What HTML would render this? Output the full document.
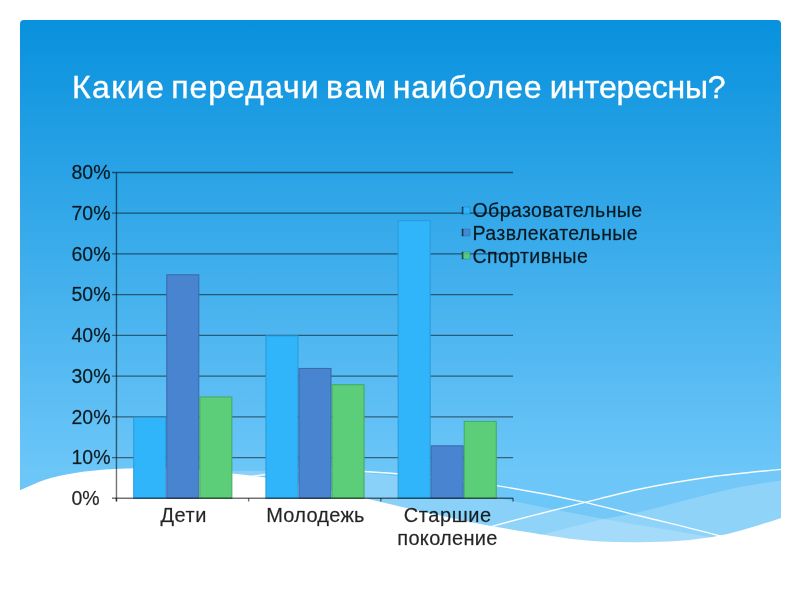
<!DOCTYPE html>
<html><head><meta charset="utf-8"><style>
html,body{margin:0;padding:0;background:#fff;width:800px;height:600px;overflow:hidden}
svg{display:block;will-change:transform}
text{font-family:"Liberation Sans",sans-serif}
</style></head><body>
<svg width="800" height="600" viewBox="0 0 800 600">
<defs>
<linearGradient id="bg" gradientUnits="userSpaceOnUse" x1="0" y1="20" x2="0" y2="470">
<stop offset="0" stop-color="#0891dd"/>
<stop offset="1" stop-color="#6cc6f8"/>
</linearGradient>
<clipPath id="slide"><rect x="20" y="20" width="761" height="560" rx="4"/></clipPath>
</defs>
<g clip-path="url(#slide)">
<rect x="20" y="20" width="761" height="560" fill="url(#bg)"/>
<path d="M420.0,548.0 C444.0,540.8 468.0,533.2 492.0,526.4 C523.0,517.7 554.0,510.1 585.0,502.4 C603.3,497.8 621.7,492.9 640.0,489.0 C663.3,484.1 686.7,480.3 710.0,477.0 C736.7,473.2 763.3,471.3 790.0,468.5 L790,600 L420,600 Z" fill="#fff" fill-opacity="0.05"/>
<g fill="#fff" fill-opacity="0.2">
<path d="M230.0,471.0 C253.3,471.0 276.7,470.6 300.0,471.0 C321.3,471.3 342.7,471.5 364.0,473.0 C375.0,473.8 386.0,474.7 397.0,476.0 C430.7,480.1 464.3,491.0 498.0,498.0 C533.3,505.4 568.7,512.5 604.0,519.0 C639.3,525.5 674.7,530.6 710.0,537.0 C736.7,541.8 763.3,547.0 790.0,552.0 L790,600 L230,600 Z"/>
<path d="M440.0,556.0 C473.3,549.0 506.7,542.8 540.0,535.0 C561.3,530.0 582.7,523.5 604.0,519.0 C615.3,516.6 626.7,515.0 638.0,512.5 C655.3,508.7 672.7,503.3 690.0,499.0 C706.7,494.8 723.3,490.3 740.0,487.0 C756.7,483.7 773.3,481.7 790.0,479.0 L790,600 L440,600 Z"/>
</g>
<g fill="none" stroke="#fff" stroke-width="1.4" stroke-opacity="0.95">
<path d="M240.0,478.0 C260.0,475.5 280.0,471.6 300.0,470.5 C321.3,469.3 342.7,470.4 364.0,471.5 C375.0,472.1 386.0,472.9 397.0,473.8 C430.0,476.5 463.0,480.5 496.0,485.6 C525.7,490.2 555.3,495.7 585.0,502.4 C603.3,506.5 621.7,511.4 640.0,516.0 C666.7,522.6 693.3,528.4 720.0,536.0 C733.3,539.8 746.7,544.0 760.0,548.0"/>
<path d="M420.0,548.0 C444.0,540.8 468.0,533.2 492.0,526.4 C523.0,517.7 554.0,510.1 585.0,502.4 C603.3,497.8 621.7,492.9 640.0,489.0 C663.3,484.1 686.7,480.3 710.0,477.0 C736.7,473.2 763.3,471.3 790.0,468.5"/>
</g>
</g>
<path d="M0.0,498.0 C6.7,495.4 13.3,492.9 20.0,490.2 C28.3,486.8 36.7,482.5 45.0,479.7 C55.0,476.4 65.0,474.7 75.0,473.0 C85.0,471.3 95.0,470.3 105.0,469.5 C115.0,468.7 125.0,468.4 135.0,468.2 C148.3,467.9 161.7,468.0 175.0,468.5 C194.0,469.3 213.0,471.3 232.0,473.4 C243.0,474.6 254.0,475.9 265.0,477.5 C298.0,482.3 331.0,490.5 364.0,498.0 C376.0,500.7 388.0,503.8 400.0,506.5 C440.0,515.6 480.0,524.6 520.0,531.0 C546.7,535.3 573.3,540.0 600.0,541.5 C616.7,542.4 633.3,542.4 650.0,542.0 C663.3,541.7 676.7,541.4 690.0,540.0 C700.0,538.9 710.0,537.6 720.0,535.6 C730.0,533.6 740.0,530.7 750.0,527.8 C760.3,524.8 770.7,521.3 781.0,517.9 C787.3,515.8 793.7,513.6 800.0,511.5 L800,600 L0,600 Z" fill="#fff"/>
<g fill="#fff" stroke="#fff" stroke-width="0.35" font-size="32">
<text x="72" y="97.6" letter-spacing="1.4">Какие</text>
<text x="171.2" y="97.6" letter-spacing="1.0">передачи</text>
<text x="326" y="97.6" letter-spacing="1.75">вам</text>
<text x="392.7" y="97.6" letter-spacing="0.82">наиболее</text>
<text x="549.7" y="97.6" letter-spacing="-0.2">интересны?</text>
</g>
<g stroke="#000" stroke-opacity="0.5" stroke-width="1.3"><line x1="112" y1="172.50" x2="513.05" y2="172.50"/><line x1="112" y1="213.22" x2="513.05" y2="213.22"/><line x1="112" y1="253.94" x2="513.05" y2="253.94"/><line x1="112" y1="294.66" x2="513.05" y2="294.66"/><line x1="112" y1="335.38" x2="513.05" y2="335.38"/><line x1="112" y1="376.09" x2="513.05" y2="376.09"/><line x1="112" y1="416.81" x2="513.05" y2="416.81"/><line x1="112" y1="457.53" x2="513.05" y2="457.53"/></g>
<rect x="133.72" y="417.31" width="32.05" height="80.94" fill="#30b4fa" stroke="#2a9ad8" stroke-width="1"/><rect x="166.77" y="274.80" width="32.05" height="223.45" fill="#4884d0" stroke="#3a6aa8" stroke-width="1"/><rect x="199.82" y="396.95" width="32.05" height="101.30" fill="#5ccd78" stroke="#47a862" stroke-width="1"/><rect x="265.92" y="335.88" width="32.05" height="162.38" fill="#30b4fa" stroke="#2a9ad8" stroke-width="1"/><rect x="298.97" y="368.45" width="32.05" height="129.80" fill="#4884d0" stroke="#3a6aa8" stroke-width="1"/><rect x="332.02" y="384.74" width="32.05" height="113.51" fill="#5ccd78" stroke="#47a862" stroke-width="1"/><rect x="398.12" y="220.64" width="32.05" height="277.61" fill="#30b4fa" stroke="#2a9ad8" stroke-width="1"/><rect x="431.17" y="445.82" width="32.05" height="52.43" fill="#4884d0" stroke="#3a6aa8" stroke-width="1"/><rect x="464.22" y="421.38" width="32.05" height="76.87" fill="#5ccd78" stroke="#47a862" stroke-width="1"/>
<g stroke="#000" stroke-opacity="0.55" stroke-width="1.4"><line x1="116.45" y1="172.5" x2="116.45" y2="501.5"/><line x1="112" y1="498.25" x2="513.05" y2="498.25"/><line x1="116.45" y1="498.25" x2="116.45" y2="501.5"/><line x1="248.65" y1="498.25" x2="248.65" y2="501.5"/><line x1="380.85" y1="498.25" x2="380.85" y2="501.5"/><line x1="513.05" y1="498.25" x2="513.05" y2="501.5"/></g>
<g font-size="19.5" fill="#000" fill-opacity="0.85" stroke="#000" stroke-opacity="0.5" stroke-width="0.3">
<text x="71.5" y="179.30">80%</text><text x="71.5" y="220.02">70%</text><text x="71.5" y="260.74">60%</text><text x="71.5" y="301.46">50%</text><text x="71.5" y="342.18">40%</text><text x="71.5" y="382.89">30%</text><text x="71.5" y="423.61">20%</text><text x="71.5" y="464.33">10%</text><text x="71.5" y="505.05">0%</text>
</g>
<g font-size="20" fill="#000" fill-opacity="0.85" stroke="#000" stroke-opacity="0.5" stroke-width="0.3">
<text x="183.75" y="521.8" text-anchor="middle" letter-spacing="0.6">Дети</text><text x="315.45" y="521.8" text-anchor="middle" letter-spacing="0.25">Молодежь</text><text x="447.75" y="521.8" text-anchor="middle" letter-spacing="0.55">Старшие</text><text x="447.55" y="545.1" text-anchor="middle" letter-spacing="0.3">поколение</text>
</g>
<g font-size="19.5" fill="#000" fill-opacity="0.85" stroke="#000" stroke-opacity="0.5" stroke-width="0.3" letter-spacing="0.4">
<rect x="462" y="207" width="8" height="7" fill="#30b4fa"/><rect x="462" y="207" width="1.2" height="7" fill="#000" fill-opacity="0.5"/><text x="472.5" y="217.00">Образовательные</text><rect x="462" y="229" width="8" height="7" fill="#4884d0"/><rect x="462" y="229" width="1.2" height="7" fill="#000" fill-opacity="0.5"/><text x="472.5" y="240.00">Развлекательные</text><rect x="462" y="252" width="8" height="7" fill="#5ccd78"/><rect x="462" y="252" width="1.2" height="7" fill="#000" fill-opacity="0.5"/><text x="472.5" y="263.00">Спортивные</text>
</g>
</svg>
</body></html>
